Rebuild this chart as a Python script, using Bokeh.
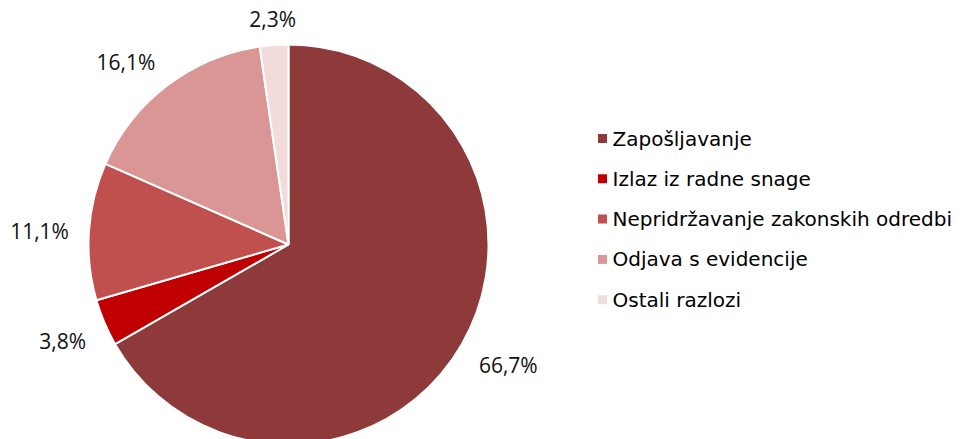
import numpy as np
from bokeh.plotting import figure
from bokeh.models import ColumnDataSource, Range1d
from bokeh.core.properties import value
from bokeh.embed import file_html
from bokeh.resources import INLINE

categories = ["Zapošljavanje", "Izlaz iz radne snage", "Nepridržavanje zakonskih odredbi",
              "Odjava s evidencije", "Ostali razlozi"]
shares = [66.7, 3.8, 11.1, 16.1, 2.3]
colors = ["#8E3A3A", "#C00000", "#C0504D", "#D99694", "#F2DCDB"]

W, H = 964, 439
cx, cy, R = 288, H - 244, 200

frac = np.array(shares) / sum(shares)
cum_end = np.cumsum(frac)
cum_start = cum_end - frac
start = np.pi / 2 - 2 * np.pi * cum_start
end = np.pi / 2 - 2 * np.pi * cum_end
mid = (start + end) / 2

labels = [f"{v:.1f}".replace(".", ",") + "%" for v in shares]
lx = cx + (R + 20) * np.cos(mid)
ly = cy + (R + 12) * np.sin(mid)
aligns = ["left" if c > 0.15 else ("right" if c < -0.15 else "center") for c in np.cos(mid)]
bases = ["bottom" if s > 0.15 else ("top" if s < -0.15 else "middle") for s in np.sin(mid)]

src = ColumnDataSource(dict(cat=categories, start=start, end=end, color=colors,
                            lx=lx, ly=ly, lab=labels, al=aligns, bl=bases))

p = figure(width=W, height=H, output_backend="svg", toolbar_location=None,
           x_range=Range1d(0, W), y_range=Range1d(0, H), min_border=0)
p.axis.visible = False
p.grid.visible = False
p.outline_line_color = None

p.wedge(x=cx, y=cy, radius=R, start_angle="start", end_angle="end", direction="clock",
        fill_color="color", line_color="white", line_width=2, source=src)

p.text(x="lx", y="ly", text="lab", text_align="al", text_baseline="bl",
       text_font=value("Open Sans"), text_font_size="21px", text_color="#111111", source=src)

# legend
n = len(categories)
leg_y = H - (138 + 40.3 * np.arange(n))
leg_src = ColumnDataSource(dict(y=leg_y, cat=categories, color=colors))
p.scatter(x=602, y="y", marker="square", size=9, fill_color="color", line_color=None, source=leg_src)
p.text(x=612, y="y", text="cat", text_baseline="middle", text_align="left",
       text_font=value("DejaVu Sans"), text_font_size="20px", text_color="#000000", source=leg_src)

open("out.html", "w").write(file_html(p, INLINE))
